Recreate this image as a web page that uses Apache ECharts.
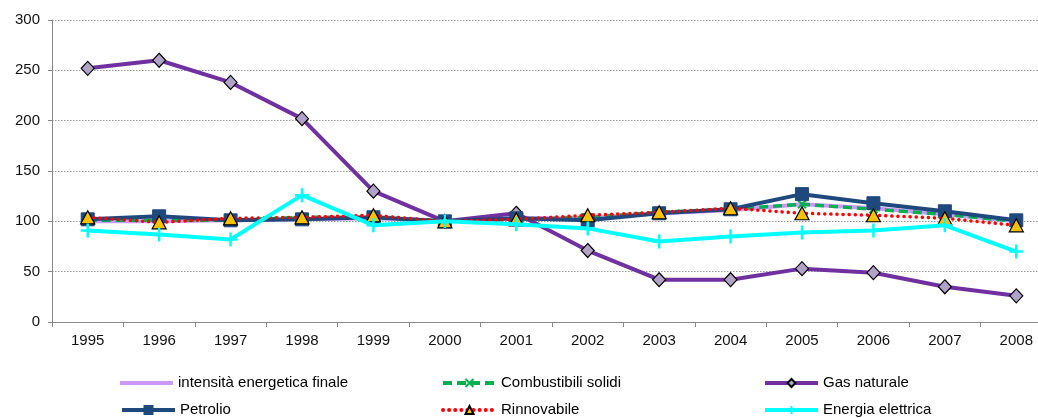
<!DOCTYPE html>
<html><head><meta charset="utf-8">
<script src="https://cdn.jsdelivr.net/npm/echarts@6/dist/echarts.min.js"></script>
<style>html,body{margin:0;padding:0;background:#fff;overflow:hidden;width:1038px;height:418px}#c{width:1052px;height:418px}</style>
</head><body><div id="c"></div>
<script>
const years = ['1995','1996','1997','1998','1999','2000','2001','2002','2003','2004','2005','2006','2007','2008'];
const yTicks = [0, 50, 100, 150, 200, 250, 300];
const intensita = [100, 100, 101, 102, 103, 100, 103, 103, 108, 111, 117, 113, 107, 100];
const combustibili = [101, 101, 101, 104, 104, 100, 102, 104, 109, 112, 117, 112, 107, 100];
const gasNaturale = [252, 260, 238, 202, 130, 100, 108, 71, 42, 42, 53, 49, 35, 26];
const petrolio = [102, 105, 101, 102, 104, 100, 103, 101, 108, 112, 127, 118, 110, 101];
const rinnovabile = [104, 99, 103, 104, 106, 100, 102, 106, 109, 113, 108, 106, 103, 96];
const energiaElettrica = [91, 87, 82, 126, 96, 100, 97, 93, 80, 85, 89, 91, 96, 70];

const FONT = 'Liberation Sans, Arial, sans-serif';
const chart = echarts.init(document.getElementById('c'), null, {renderer: 'canvas'});

const names = ['intensità energetica finale','Combustibili solidi','Gas naturale','Petrolio','Rinnovabile','Energia elettrica'];
const legendPos = [[120,383],[441,383],[763,383],[120,410],[441,410],[763,410]];
const legends = names.map((n, i) => ({
  data: i === 0 ? [{name: n, icon: 'rect'}] : [n],
  left: legendPos[i][0], top: legendPos[i][1] - 8,
  itemWidth: 53, itemHeight: i === 0 ? 4 : 10, itemGap: 2, padding: 0,
  lineStyle: {width: 4},
  textStyle: {fontFamily: FONT, fontSize: 15, color: '#000', lineHeight: 16},
  selectedMode: false
}));

chart.setOption({
  animation: false,
  backgroundColor: '#fff',
  legend: legends,
  grid: {left: 52, top: 20, right: 0, height: 302, containLabel: false},
  xAxis: {
    type: 'category', data: years, boundaryGap: true,
    axisLine: {lineStyle: {color: '#888', width: 1}},
    axisTick: {show: true, alignWithLabel: false, length: 5, lineStyle: {color: '#888'}},
    axisLabel: {fontFamily: FONT, fontSize: 15, color: '#111', margin: 11}
  },
  yAxis: {
    type: 'value', min: yTicks[0], max: yTicks[yTicks.length-1], interval: 50,
    axisLine: {show: true, lineStyle: {color: '#888', width: 1}},
    axisTick: {show: true, length: 4, lineStyle: {color: '#888'}},
    axisLabel: {fontFamily: FONT, fontSize: 15, color: '#111', margin: 12},
    splitLine: {show: true, lineStyle: {color: '#999', type: [1.5, 1.5], width: 1}}
  },
  series: [
    {name: names[0], type: 'line', data: intensita, symbol: 'none', z: 2,
      lineStyle: {color: '#CC99FF', width: 4}, itemStyle: {color: '#CC99FF'}},
    {name: names[1], type: 'line', data: combustibili, z: 3,
      symbol: 'path://M0,0L10,10M10,0L0,10', symbolSize: 8,
      lineStyle: {color: '#00B050', width: 3.5, type: [9, 5]},
      itemStyle: {color: 'rgba(0,0,0,0)', borderColor: '#00B050', borderWidth: 2}},
    {name: names[2], type: 'line', data: gasNaturale, z: 4,
      symbol: 'diamond', symbolSize: [13, 14],
      lineStyle: {color: '#7030A0', width: 4},
      itemStyle: {color: '#B3A2C7', borderColor: '#000', borderWidth: 1.2}},
    {name: names[3], type: 'line', data: petrolio, z: 5,
      symbol: 'rect', symbolSize: 13,
      lineStyle: {color: '#1F497D', width: 4},
      itemStyle: {color: '#1F497D', borderColor: '#1F497D', borderWidth: 1}},
    {name: names[4], type: 'line', data: rinnovabile, z: 6,
      symbol: 'triangle', symbolSize: [14, 13],
      lineStyle: {color: '#FF0000', width: 3.5, type: [0.1, 6], cap: 'round'},
      itemStyle: {color: '#FFC000', borderColor: '#000', borderWidth: 1.2}},
    {name: names[5], type: 'line', data: energiaElettrica, z: 7,
      symbol: 'path://M5,0L5,10M0,5L10,5', symbolSize: 14,
      lineStyle: {color: '#00FFFF', width: 4},
      itemStyle: {color: 'rgba(0,0,0,0)', borderColor: '#00FFFF', borderWidth: 2.5}}
  ]
});
</script></body></html>
